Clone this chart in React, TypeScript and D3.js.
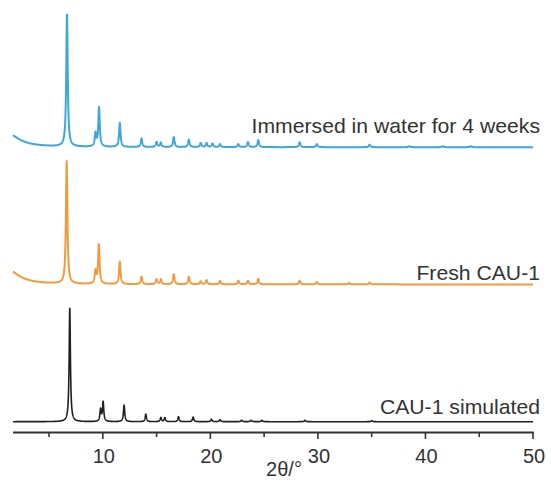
import React from "react";
import * as d3 from "d3";

// 2θ range and axis ticks
const X_DOMAIN: [number, number] = [1.65, 50];
const MAJOR_TICKS = [10, 20, 30, 40, 50];
const MINOR_TICKS = [5, 15, 25, 35, 45];

// Series names
const SERIES_NAMES = ["Immersed in water for 4 weeks", "Fresh CAU-1", "CAU-1 simulated"];

// Peak positions (2θ) and intensities (a.u.)
const WATER_POS = [6.67, 9.32, 9.65, 11.58, 13.6, 15.0, 15.4, 16.6, 18.0, 19.1, 19.65, 20.2, 20.9, 22.6, 23.5, 24.45, 28.3, 29.9, 34.8, 38.5, 41.6, 44.2];
const WATER_INT = [132, 13, 39, 24, 8.5, 5, 4.5, 10, 7.5, 4, 4, 3.5, 3, 3, 5, 7, 5, 3, 2.5, 1, 1, 1];
const WATER_BG = [15, 1.0, 1.3]; // amplitude, centre, half width of low-angle background

const FRESH_POS = [6.64, 9.32, 9.63, 11.58, 13.6, 15.0, 15.4, 16.6, 18.0, 19.1, 19.65, 20.9, 22.6, 23.5, 24.45, 28.3, 29.9, 32.9, 34.8];
const FRESH_INT = [122.5, 12.5, 39, 22.5, 7.5, 5, 5, 10, 7.5, 3, 4.2, 3.4, 3.6, 3.6, 5.4, 3.7, 2.4, 1.4, 1.9];
const FRESH_BG = [16, 1.0, 1.3];

const SIM_POS = [6.93, 9.79, 10.03, 11.98, 14.0, 15.4, 15.77, 17.04, 18.4, 20.1, 20.9, 22.9, 23.8, 24.8, 28.8, 35.0];
const SIM_INT = [113.5, 12, 19.5, 16.5, 7.5, 4.2, 4, 5, 4.6, 2.5, 2, 1.5, 1.5, 1.5, 1.5, 1];
const SIM_BG = [0, 1.0, 1.3];

// vertical offsets of the stacked patterns (a.u.)
const OFFSETS = [274.5, 137.3, 0];
const COLORS = ["#3ea6da", "#f29a3d", "#231f20"];
const WIDTHS = [0.08, 0.08, 0.07];

const W = 551;
const H = 488;

function profile(pos: number[], inten: number[], bg: number[], gamma: number) {
  const pts: [number, number][] = [];
  const n = Math.round((X_DOMAIN[1] - X_DOMAIN[0]) / 0.01);
  for (let i = 0; i <= n; i++) {
    const t = Math.round((X_DOMAIN[0] + i * 0.01) * 100) / 100;
    let v = bg[0] / (1 + ((t - bg[1]) / bg[2]) ** 2);
    for (let k = 0; k < pos.length; k++) {
      const d = (t - pos[k]) / gamma;
      v += inten[k] / (1 + d * d);
    }
    pts.push([t, v]);
  }
  return pts;
}

export default function App() {
  const x = d3.scaleLinear().domain(X_DOMAIN).range([13, 533]);
  const y = d3.scaleLinear().domain([0, 420]).range([421.7, 1.7]);

  const series = [
    profile(WATER_POS, WATER_INT, WATER_BG, WIDTHS[0]),
    profile(FRESH_POS, FRESH_INT, FRESH_BG, WIDTHS[1]),
    profile(SIM_POS, SIM_INT, SIM_BG, WIDTHS[2]),
  ];
  const labelY = [133, 280, 414];

  const axisY = 432.5;
  const font = "'Liberation Sans', Arial, Helvetica, sans-serif";

  return (
    <svg width={W} height={H} style={{ position: "absolute", left: 0, top: 0, background: "#fff" }}>
      {series.map((s, i) => {
        const line = d3
          .line<[number, number]>()
          .x((d) => x(d[0]))
          .y((d) => y(d[1] + OFFSETS[i]));
        return (
          <path
            key={i}
            d={line(s) || ""}
            fill="none"
            stroke={COLORS[i]}
            strokeWidth={i === 2 ? 1.6 : 2}
            strokeLinejoin="round"
          />
        );
      })}
      {SERIES_NAMES.map((name, i) => (
        <text
          key={name}
          transform={`translate(540,${labelY[i]}) scale(1.06,1)`}
          textAnchor="end"
          fontFamily={font}
          fontSize={20}
          fill="#333"
        >
          {name}
        </text>
      ))}
      <line x1={x(X_DOMAIN[0])} x2={x(50) + 0.8} y1={axisY} y2={axisY} stroke="#333" strokeWidth={1.8} />
      {MAJOR_TICKS.map((t) => (
        <g key={t}>
          <line x1={x(t)} x2={x(t)} y1={axisY} y2={axisY + 6.5} stroke="#333" strokeWidth={1.6} />
          <text x={x(t) + 1} y={462.5} textAnchor="middle" fontFamily={font} fontSize={20} fill="#333">
            {t}
          </text>
        </g>
      ))}
      {MINOR_TICKS.map((t) => (
        <line key={t} x1={x(t)} x2={x(t)} y1={axisY} y2={axisY + 4.5} stroke="#333" strokeWidth={1.6} />
      ))}
      <text x={284} y={476} textAnchor="middle" fontFamily={font} fontSize={20} fill="#333">
        2θ/°
      </text>
    </svg>
  );
}
